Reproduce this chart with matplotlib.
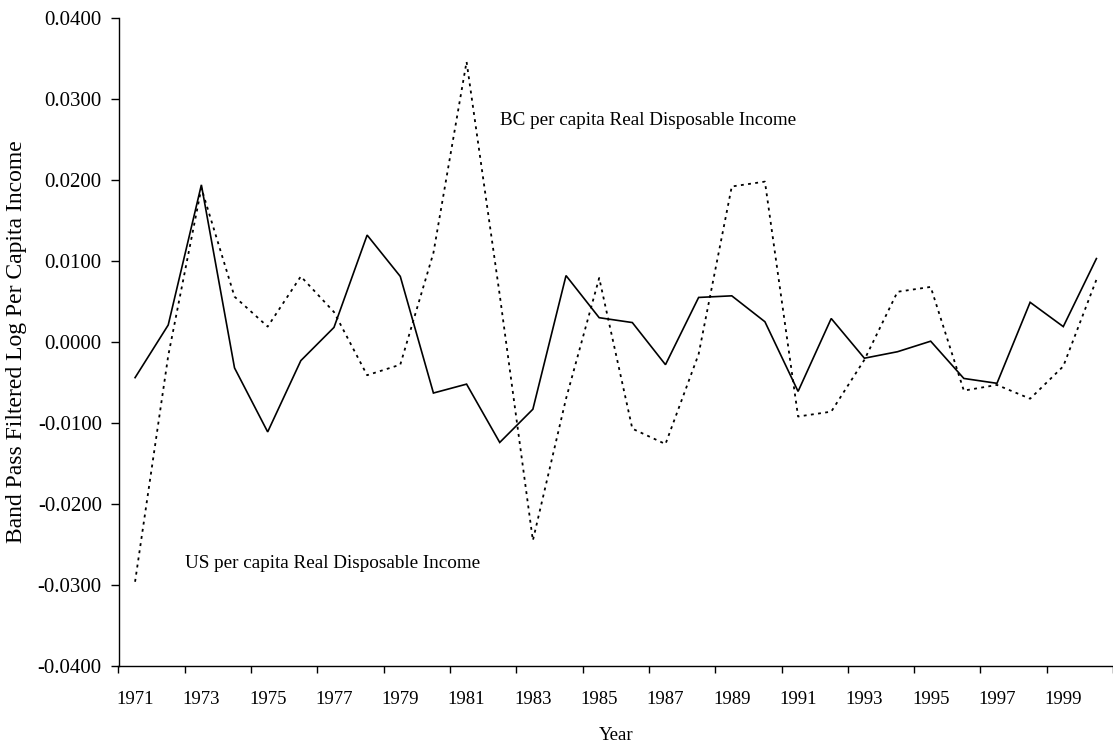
import matplotlib

matplotlib.use("Agg")
import matplotlib.pyplot as plt
import numpy as np
from matplotlib.ticker import FixedLocator, FuncFormatter

years = list(range(1971, 2001))

# band pass filtered log per capita real disposable income
us_income = [
    -0.0044, 0.0021, 0.0194, -0.0032, -0.0111, -0.0023, 0.0018, 0.0132, 0.0081, -0.0063,
    -0.0052, -0.0124, -0.0083, 0.0082, 0.0030, 0.0024, -0.0028, 0.0055, 0.0057, 0.0025,
    -0.0061, 0.0029, -0.0020, -0.0012, 0.0001, -0.0045, -0.0051, 0.0049, 0.0019, 0.0103,
]
bc_income = [
    -0.0296, -0.0017, 0.0190, 0.0056, 0.0019, 0.0081, 0.0037, -0.0041, -0.0028, 0.0110,
    0.0346, 0.0058, -0.0245, -0.0070, 0.0079, -0.0107, -0.0126, -0.0015, 0.0192, 0.0198,
    -0.0092, -0.0086, -0.0022, 0.0062, 0.0068, -0.0060, -0.0053, -0.0070, -0.0030, 0.0077,
]
y_ticks = [-0.04, -0.03, -0.02, -0.01, 0.0, 0.01, 0.02, 0.03, 0.04]

plt.rcParams["font.family"] = ["Liberation Serif", "DejaVu Serif"]

fig = plt.figure(figsize=(11.13, 7.46), dpi=100)
ax = fig.add_axes([118.5 / 1113, 1 - 666 / 746, 1 - 118.5 / 1113, (666 - 18) / 746])

x = np.arange(len(years))
ax.plot(x, us_income, color="black", linewidth=1.2, solid_joinstyle="miter")
ax.plot(x, bc_income, color="black", linewidth=1.3, linestyle=(0, (1.6, 2.4)))

ax.set_xlim(-0.5, len(years) - 0.5)
ax.set_ylim(-0.04, 0.04)

# category axis: marks on the boundaries, labels on every second year
ax.xaxis.set_major_locator(FixedLocator(np.arange(-0.5, len(years), 2)))
ax.xaxis.set_major_formatter(FuncFormatter(lambda v, p: ""))
ax.xaxis.set_minor_locator(FixedLocator(x[::2]))
ax.xaxis.set_minor_formatter(FuncFormatter(lambda v, p: str(years[int(round(v))])))
ax.tick_params(axis="x", which="major", direction="out", length=5, width=1)
ax.tick_params(axis="x", which="minor", length=0, pad=18, labelsize=13.5)

ax.set_yticks(y_ticks)
ax.yaxis.set_major_formatter(FuncFormatter(lambda v, p: f"{v:.4f}"))
ax.tick_params(axis="y", direction="out", length=6, width=1, pad=6, labelsize=15)

for side in ("top", "right"):
    ax.spines[side].set_visible(False)
for side in ("left", "bottom"):
    ax.spines[side].set_linewidth(1.0)

ax.set_xlabel("Year", fontsize=13.5, labelpad=14)
ax.set_ylabel("Band Pass Filtered Log Per Capita Income", fontsize=17, labelpad=8)

ax.text(11.0, 0.0274, "BC per capita Real Disposable Income", fontsize=13.8, va="center")
ax.text(1.5, -0.0274, "US per capita Real Disposable Income", fontsize=13.8, va="center")

fig.savefig("out.png", dpi=100)
